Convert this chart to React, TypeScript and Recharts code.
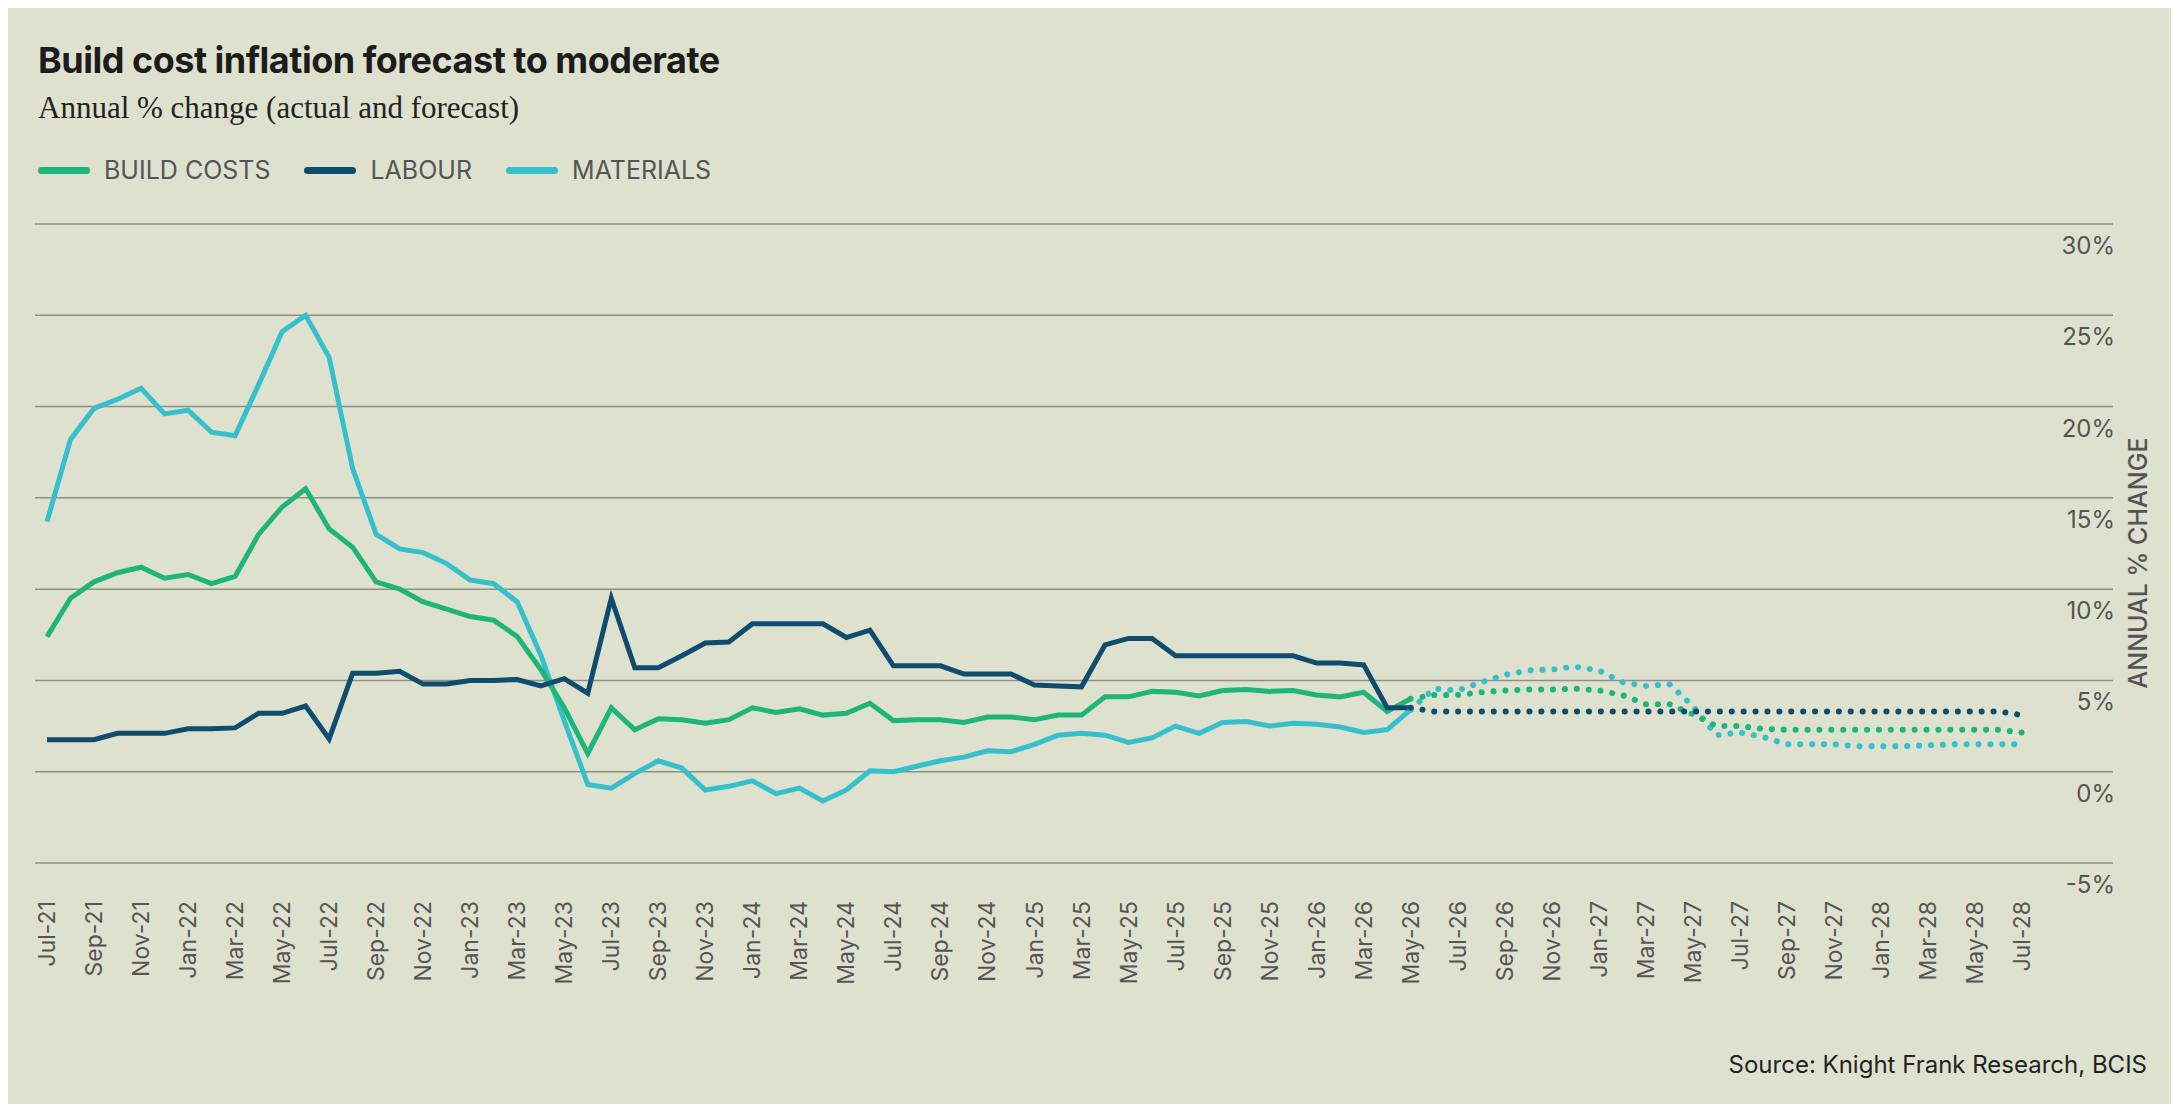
import React from "react";
import { LineChart, Line, XAxis, YAxis, CartesianGrid } from "recharts";

const MONTHS = ["Jan", "Feb", "Mar", "Apr", "May", "Jun", "Jul", "Aug", "Sep", "Oct", "Nov", "Dec"];
// Jul-21 .. Jul-28, monthly
const labels: string[] = [];
for (let i = 0; i < 85; i++) {
  const m = (6 + i) % 12;
  const y = 21 + Math.floor((6 + i) / 12);
  labels.push(`${MONTHS[m]}-${y}`);
}

const buildActual = [
  7.4, 9.5, 10.4, 10.9, 11.2, 10.6, 10.8, 10.3, 10.7, 13.0,
  14.5, 15.5, 13.3, 12.3, 10.4, 10.0, 9.3, 8.9, 8.5, 8.3,
  7.4, 5.6, 3.5, 1.0, 3.5, 2.3, 2.9, 2.85, 2.65,
  2.85, 3.5, 3.25, 3.45, 3.1, 3.2, 3.75, 2.8, 2.85, 2.85,
  2.7, 3.0, 3.0, 2.85, 3.1, 3.1, 4.1, 4.1, 4.4, 4.35,
  4.15, 4.45, 4.5, 4.4, 4.45, 4.2, 4.1, 4.35, 3.3, 4.0,
];
const buildForecast = [
  4.0, 4.2, 4.2, 4.35, 4.45, 4.5, 4.5, 4.55, 4.45, 4.2,
  3.7, 3.7, 3.15, 2.5, 2.5, 2.35, 2.3, 2.3, 2.3, 2.3,
  2.3, 2.3, 2.3, 2.3, 2.3, 2.3, 2.15,
];
const labourActual = [
  1.75, 1.75, 1.75, 2.1, 2.1, 2.1, 2.35, 2.35, 2.4, 3.2,
  3.2, 3.6, 1.8, 5.4, 5.4, 5.5, 4.8, 4.8, 5.0, 5.0,
  5.05, 4.7, 5.1, 4.3, 9.5, 5.7, 5.7, 6.35, 7.05, 7.1,
  8.1, 8.1, 8.1, 8.1, 7.35, 7.75, 5.8, 5.8, 5.8, 5.35,
  5.35, 5.35, 4.75, 4.7, 4.65, 6.95, 7.3, 7.3, 6.35, 6.35,
  6.35, 6.35, 6.35, 6.35, 5.95, 5.95, 5.85, 3.5, 3.5,
];
const labourForecast = [
  3.5, 3.3, 3.3, 3.3, 3.3, 3.3, 3.3, 3.3, 3.3, 3.3,
  3.3, 3.3, 3.3, 3.3, 3.3, 3.3, 3.3, 3.3, 3.3, 3.3,
  3.3, 3.3, 3.3, 3.3, 3.3, 3.3, 3.1,
];
const materialsActual = [
  13.7, 18.2, 19.9, 20.4, 21.0, 19.6, 19.8, 18.6, 18.4, 21.2,
  24.1, 25.0, 22.7, 16.6, 13.0, 12.2, 12.0, 11.4, 10.5, 10.3,
  9.3, 6.4, 2.8, -0.7, -0.9, -0.1, 0.6, 0.2, -1.0, -0.8,
  -0.5, -1.2, -0.9, -1.6, -1.0, 0.05, 0, 0.3, 0.6, 0.8,
  1.15, 1.1, 1.5, 2.0, 2.1, 2.0, 1.6, 1.85, 2.5, 2.1,
  2.7, 2.75, 2.5, 2.65, 2.6, 2.45, 2.15, 2.3, 3.4,
];
const materialsForecast = [
  3.4, 4.55, 4.45, 4.9, 5.3, 5.55, 5.6, 5.75, 5.55, 4.9,
  4.7, 4.8, 3.6, 2.0, 2.15, 1.9, 1.5, 1.5, 1.5, 1.4,
  1.4, 1.4, 1.45, 1.5, 1.5, 1.5, 1.5,
];
const yTicks = [-5, 0, 5, 10, 15, 20, 25, 30];

const FORECAST_START = 58;
const data = labels.map((label, i) => ({
  label,
  build: i < buildActual.length ? buildActual[i] : null,
  labour: i < labourActual.length ? labourActual[i] : null,
  materials: i < materialsActual.length ? materialsActual[i] : null,
  buildF: i >= FORECAST_START ? buildForecast[i - FORECAST_START] : null,
  labourF: i >= FORECAST_START ? labourForecast[i - FORECAST_START] : null,
  materialsF: i >= FORECAST_START ? materialsForecast[i - FORECAST_START] : null,
}));

const GREEN = "#1db57a";
const NAVY = "#0f4c6e";
const CYAN = "#35c0cc";
const BG = "#dfe1cf";
const FONT = "Inter, 'Noto Sans', sans-serif";

const XTick = (props: any) => {
  const { x, y, payload } = props;
  return (
    <text
      transform={`translate(${x + 8},${y + 30}) rotate(-90)`}
      textAnchor="end"
      fontSize={23}
      fill="#555"
      fontFamily={FONT}
    >
      {payload.value}
    </text>
  );
};

const YTick = (props: any) => {
  const { y, payload } = props;
  return (
    <text x={2115} y={y + 30} textAnchor="end" fontSize={24} fill="#555" fontFamily={FONT}>
      {payload.value}%
    </text>
  );
};

const LegendItem = ({ color, label }: { color: string; label: string }) => (
  <div style={{ display: "flex", alignItems: "center", marginRight: 34 }}>
    <div style={{ width: 52, height: 7, borderRadius: 4, background: color, marginRight: 14 }} />
    <span style={{ fontSize: 25, color: "#555" }}>{label}</span>
  </div>
);

export default function App() {
  return (
    <div style={{ position: "relative", margin: -8, width: 2179, height: 1112, background: BG, fontFamily: FONT, overflow: "hidden" }}>
      <div style={{ position: "absolute", left: 38, top: 38, fontSize: 36, fontWeight: 700, color: "#1c1c1c", letterSpacing: -0.5 }}>
        Build cost inflation forecast to moderate
      </div>
      <div style={{ position: "absolute", left: 38, top: 90, fontSize: 31, color: "#222", fontFamily: "'Liberation Serif', 'DejaVu Serif', serif" }}>
        Annual % change (actual and forecast)
      </div>
      <div style={{ position: "absolute", left: 38, top: 155, display: "flex" }}>
        <LegendItem color={GREEN} label="BUILD COSTS" />
        <LegendItem color={NAVY} label="LABOUR" />
        <LegendItem color={CYAN} label="MATERIALS" />
      </div>
      <div
        style={{
          position: "absolute",
          left: 2138,
          top: 563,
          transform: "translate(-50%, -50%) rotate(-90deg)",
          fontSize: 25,
          fontWeight: 500,
          color: "#555",
          whiteSpace: "nowrap",
        }}
      >
        ANNUAL % CHANGE
      </div>
      <div style={{ position: "absolute", right: 32, top: 1050, fontSize: 24, color: "#222" }}>
        Source: Knight Frank Research, BCIS
      </div>
      <div style={{ position: "absolute", left: 0, top: 0 }}>
        <LineChart width={2179} height={1112} data={data} margin={{ top: 224, right: 0, bottom: 149, left: 35 }}>
          <CartesianGrid vertical={false} stroke="#8e8f86" strokeWidth={1.5} />
          <XAxis
            dataKey="label"
            interval={1}
            tick={<XTick />}
            axisLine={false}
            tickLine={false}
            height={100}
            padding={{ left: 12, right: 91 }}
          />
          <YAxis
            orientation="right"
            domain={[-5, 30]}
            ticks={yTicks}
            width={66}
            axisLine={false}
            tickLine={false}
            tick={<YTick />}
          />
          <Line dataKey="materials" stroke={CYAN} strokeWidth={5} dot={false} isAnimationActive={false} />
          <Line dataKey="build" stroke={GREEN} strokeWidth={5} dot={false} isAnimationActive={false} />
          <Line dataKey="labour" stroke={NAVY} strokeWidth={5} dot={false} isAnimationActive={false} />
          <Line dataKey="materialsF" stroke={CYAN} strokeWidth={6} strokeDasharray="0.1 11.8" strokeLinecap="round" dot={false} isAnimationActive={false} />
          <Line dataKey="buildF" stroke={GREEN} strokeWidth={6} strokeDasharray="0.1 11.8" strokeLinecap="round" dot={false} isAnimationActive={false} />
          <Line dataKey="labourF" stroke={NAVY} strokeWidth={6} strokeDasharray="0.1 11.8" strokeLinecap="round" dot={false} isAnimationActive={false} />
        </LineChart>
      </div>
    </div>
  );
}
